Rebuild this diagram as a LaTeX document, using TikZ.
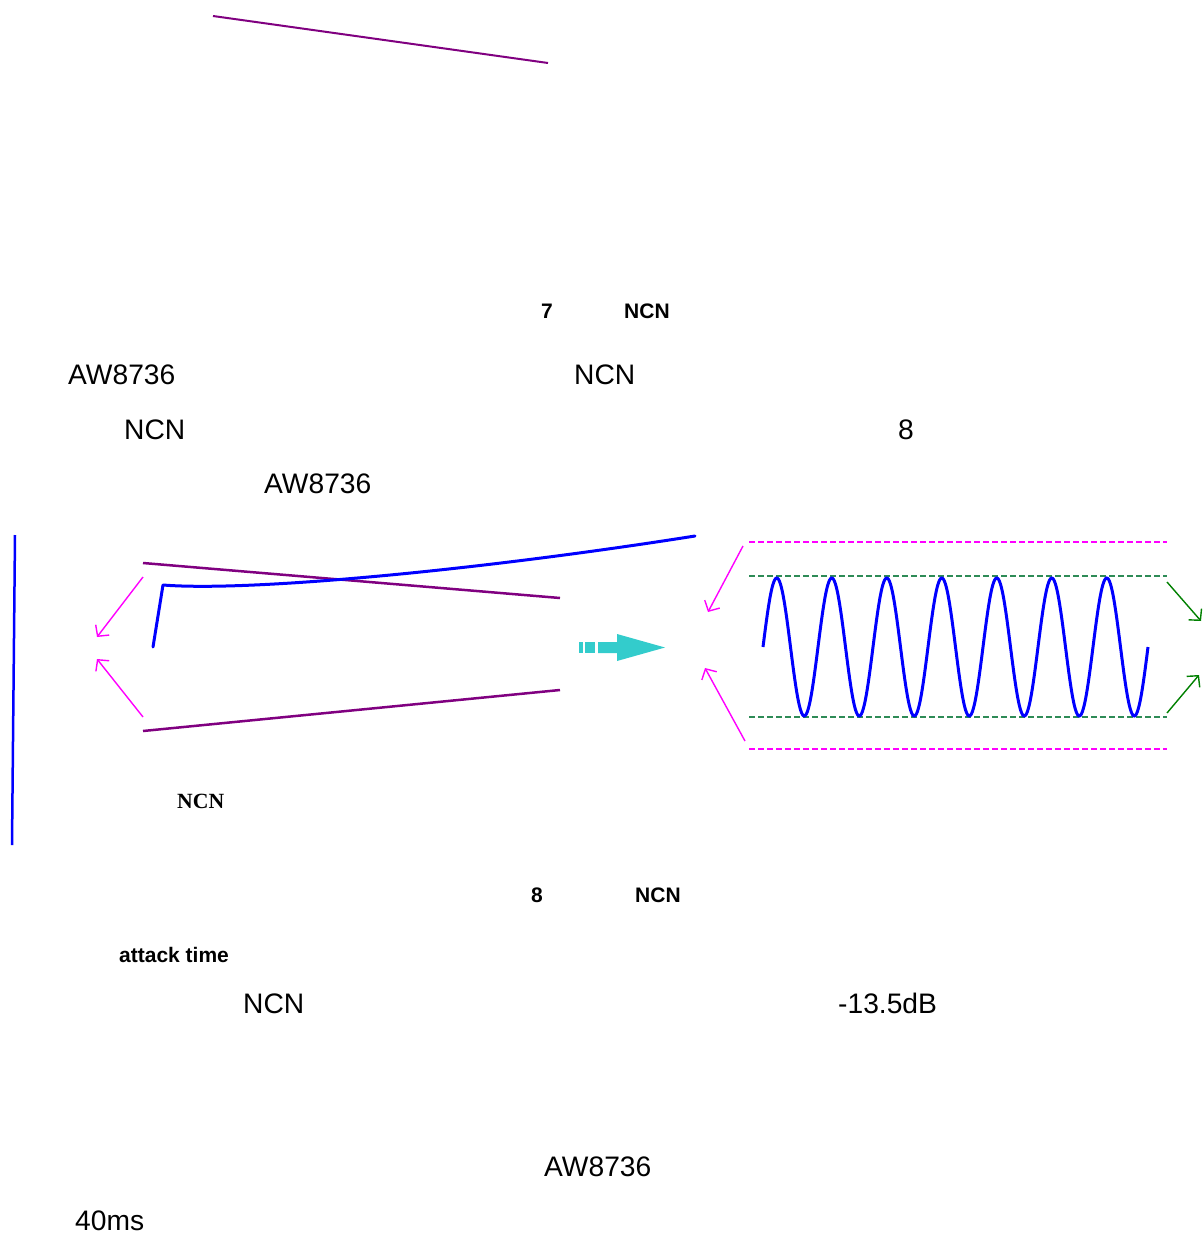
\documentclass[tikz,border=0pt]{standalone}
\usepackage{fontspec}
\setmainfont{Liberation Sans}
\newfontfamily\serifbf{Liberation Serif}
\usetikzlibrary{arrows.meta}
\definecolor{purp}{HTML}{800080}
\definecolor{mag}{HTML}{FF00FF}
\definecolor{sgreen}{HTML}{2E8B57}
\definecolor{dgreen}{HTML}{008000}
\definecolor{cyanarr}{HTML}{33CCCC}
\begin{document}
\begin{tikzpicture}[x=1pt,y=-1pt,
  txt/.style={inner sep=0pt,anchor=base west,font=\fontsize{28.2}{31}\selectfont},
  captxt/.style={inner sep=0pt,anchor=base west,font=\fontsize{21}{24}\selectfont\bfseries},
  purpline/.style={draw=purp,line width=2.5pt},
  blueline/.style={draw=blue,line width=3pt,line cap=round},
  magarrow/.style={draw=mag,line width=1.4pt,-{Straight Barb[length=8pt,width=17pt]}},
  grnarrow/.style={draw=dgreen,line width=1.4pt,-{Straight Barb[length=8pt,width=17pt]}},
  magdash/.style={draw=mag,line width=2.4pt,dash pattern=on 6pt off 3pt},
  grndash/.style={draw=sgreen,line width=2.4pt,dash pattern=on 6pt off 3pt}]
\useasboundingbox (0,0) rectangle (1202,1234);
% top line
\draw[draw=purp,line width=2pt] (213,16) -- (548,63);
% texts
\node[captxt] (c7) at (541,318) {7};
\node[captxt] (c7n) at (624,318) {NCN};
\node[txt] (t1) at (68,384) {AW8736};
\node[txt] (t2) at (574,384) {NCN};
\node[txt] (t3) at (124,439) {NCN};
\node[txt] (t4) at (898,439) {8};
\node[txt] (t5) at (264,493) {AW8736};
% left diagram
\draw[blue,line width=2.5pt] (15,535) -- (12,845);
\draw[purpline] (143,563) -- (560,598);
\draw[purpline] (143,731) -- (560,690);
\draw[blueline,line join=round] (153,647) -- (163,585) .. controls (250,592) and (480,570) .. (695,536);
\coordinate (a1s) at (143,577); \coordinate (a1e) at (97,637);
\coordinate (a2s) at (143,717); \coordinate (a2e) at (97,659);
\draw[magarrow] (a1s) -- (a1e);
\draw[magarrow] (a2s) -- (a2e);
\node[inner sep=0pt,anchor=base west,font=\fontsize{21.7}{24}\selectfont\serifbf\bfseries] (ncnl) at (177,808) {NCN};
% cyan arrow
\fill[cyanarr] (579,642) rectangle (583,653);
\fill[cyanarr] (585,642) rectangle (595,653);
\fill[cyanarr] (598,642) -- (617,642) -- (617,634) -- (665,647.5) -- (617,661) -- (617,653) -- (598,653) -- cycle;
% right diagram
\draw[magdash] (749,542) -- (1167,542);
\draw[magdash] (749,749) -- (1167,749);
\draw[grndash] (749,576) -- (1167,576);
\draw[grndash] (749,717) -- (1167,717);
\draw[blue,line width=3pt] plot[domain=0:2520,samples=400,smooth] ({763+\x/360*55},{647-69*sin(\x)});
\coordinate (b1s) at (743,546); \coordinate (b1e) at (708,612);
\coordinate (b2s) at (745,741); \coordinate (b2e) at (705,668);
\draw[magarrow] (b1s) -- (b1e);
\draw[magarrow] (b2s) -- (b2e);
\coordinate (g1s) at (1167,582); \coordinate (g1e) at (1201,621);
\coordinate (g2s) at (1167,713); \coordinate (g2e) at (1199,675);
\draw[grnarrow] (g1s) -- (g1e);
\draw[grnarrow] (g2s) -- (g2e);
% lower texts
\node[captxt] (c8) at (531,902) {8};
\node[captxt] (c8n) at (635,902) {NCN};
\node[captxt] (at) at (119,962) {attack time};
\node[txt] (t6) at (243,1013) {NCN};
\node[txt] (t7) at (838,1013) {-13.5dB};
\node[txt] (t8) at (544,1176) {AW8736};
\node[txt] (t9) at (75,1230) {40ms};
\end{tikzpicture}
\end{document}
